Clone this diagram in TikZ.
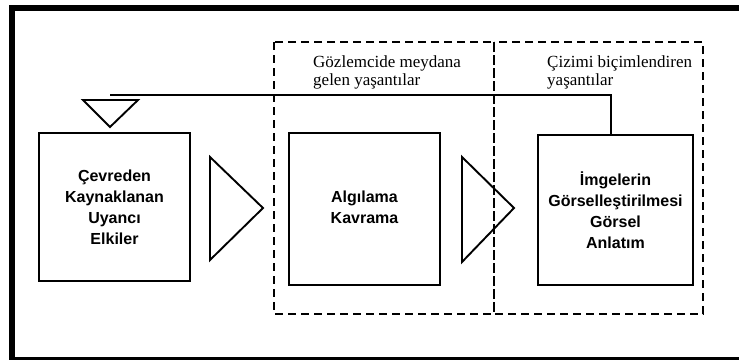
\documentclass[tikz,border=0pt]{standalone}
\usepackage{fontspec}
\setmainfont{Liberation Serif}
\newfontfamily\boxfont{Liberation Sans}
\tikzset{
  boxtext/.style={align=center, font=\boxfont\bfseries\fontsize{16}{21}\selectfont},
  procbox/.style={draw, line width=1.6pt, minimum width=151pt, minimum height=150pt, inner sep=0pt, boxtext},
  zone/.style={draw, line width=2pt, dash pattern=on 8pt off 5pt},
  tri/.style={draw, line width=1.9pt, line join=miter},
  lbl/.style={anchor=north west, align=left, inner sep=0pt, font=\fontsize{17}{18}\selectfont},
  link/.style={draw, line width=1.6pt}
}
\begin{document}
\begin{tikzpicture}[x=1pt,y=-1pt]
\useasboundingbox (0,0) rectangle (739,360);
% outer frame (right side cropped)
\fill (9,5) rectangle (739,11);
\fill (9,5) rectangle (15,360);
\fill (9,357) rectangle (739,360);
% dashed zones
\draw[zone] (274,42) rectangle (494,314);
\draw[zone] (494,42) rectangle (703,314);
\node[lbl] (lblA) at (313,55) {Gözlemcide meydana\\gelen yaşantılar};
\node[lbl] (lblB) at (547,55) {Çizimi biçimlendiren\\yaşantılar};
% boxes
\node[procbox, minimum height=148pt] (b1) at (114.5,207) {Çevreden\\Kaynaklanan\\Uyancı\\Elkiler};
\node[procbox, minimum height=152pt] (b2) at (364.5,209) {};
\node[boxtext] (b2t) at (364.5,207) {Algılama\\Kavrama};
\node[procbox, minimum width=155pt] (b3) at (615.5,210) {İmgelerin\\Görselleştirilmesi\\Görsel\\Anlatım};
% triangles
\draw[tri] (210,157) -- (263,208) -- (210,260) -- cycle;
\draw[tri] (462,157) -- (514,208) -- (462,262) -- cycle;
\draw[tri] (83,100) -- (138,100) -- (110,127) -- cycle;
% feedback line
\coordinate (fbstart) at (110,95);
\coordinate (fbturn) at (611,95);
\draw[link] (fbstart) -- (fbturn) -- (fbturn |- b3.north);
\end{tikzpicture}
\end{document}
